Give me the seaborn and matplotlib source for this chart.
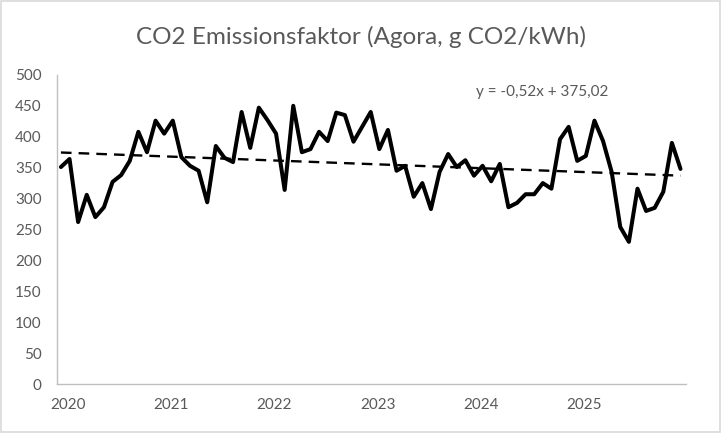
import numpy as np
import pandas as pd
import matplotlib.pyplot as plt
import seaborn as sns

# monthly CO2 emission factor (g CO2/kWh), Jan 2020 - Jan 2026
co2 = [351, 364, 262, 306, 270, 286, 327, 338, 361, 408, 375, 426,
       405, 426, 367, 353, 345, 294, 385, 366, 359, 440, 382, 447,
       427, 405, 314, 450, 375, 380, 408, 393, 439, 435, 392, 416,
       440, 380, 411, 345, 353, 303, 325, 283, 343, 372, 351, 362,
       337, 353, 328, 356, 286, 293, 307, 307, 325, 316, 396, 416,
       361, 369, 426, 393, 343, 254, 230, 316, 280, 285, 311, 390,
       348]
years = ['2020', '2021', '2022', '2023', '2024', '2025']
slope, intercept = -0.52, 375.02

df = pd.DataFrame({'idx': np.arange(len(co2)), 'co2': co2})
df['trend'] = slope * (df['idx'] + 1) + intercept

sns.set_style('white')
plt.rcParams['font.family'] = ['Lato', 'DejaVu Sans']
grey = '#595959'

fig = plt.figure(figsize=(7.21, 4.33), dpi=100)
ax = fig.add_axes([0.079, 0.113, 0.872, 0.714])

sns.lineplot(data=df, x='idx', y='co2', color='black', linewidth=2.9, ax=ax)
sns.lineplot(data=df, x='idx', y='trend', color='black', linewidth=1.7,
             linestyle=(0, (4.5, 3)), ax=ax)

ax.set_ylim(0, 500)
ax.set_xlim(-0.46, 72.6)
ax.set_yticks(range(0, 501, 50))
ax.set_xticks([12 * k + 0.8 for k in range(len(years))])
ax.set_xticklabels(years)
ax.tick_params(axis='both', length=0, labelsize=11, colors=grey)
ax.tick_params(axis='y', pad=11)
ax.tick_params(axis='x', pad=10)
ax.set_xlabel('')
ax.set_ylabel('')
for s in ['top', 'right']:
    ax.spines[s].set_visible(False)
for s in ['left', 'bottom']:
    ax.spines[s].set_color('#bfbfbf')
    ax.spines[s].set_linewidth(1)

fig.text(0.5, 0.915, 'CO2 Emissionsfaktor (Agora, g CO2/kWh)', ha='center',
         va='center', fontsize=17.5, color=grey)
ax.text(0.772, 0.945, 'y = -0,52x + 375,02', transform=ax.transAxes,
        ha='center', va='center', fontsize=11, color=grey)

# chart area border
fig.patches.append(plt.Rectangle((0.001, 0.002), 0.997, 0.996,
                                 transform=fig.transFigure, fill=False,
                                 edgecolor='#d9d9d9', linewidth=1.2))

fig.savefig('out.png', dpi=100)
